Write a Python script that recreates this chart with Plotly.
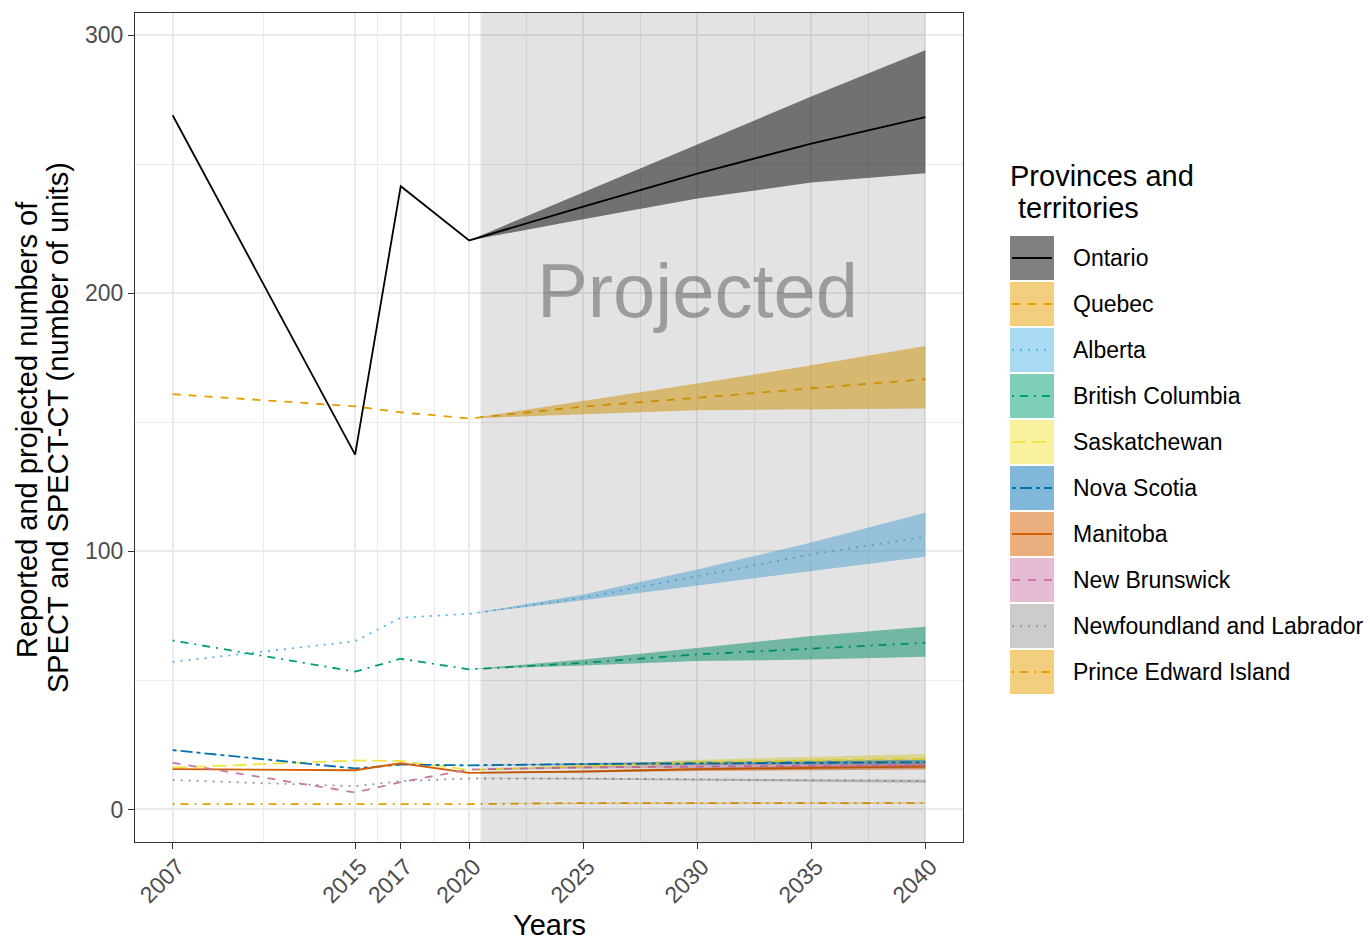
import plotly.graph_objects as go

# ---------------- data ----------------
provinces = ["Ontario", "Quebec", "Alberta", "British Columbia", "Saskatchewan",
             "Nova Scotia", "Manitoba", "New Brunswick",
             "Newfoundland and Labrador", "Prince Edward Island"]
colors = ["#000000", "#E69F00", "#56B4E9", "#009E73", "#F0E442",
          "#0072B2", "#D55E00", "#CC79A7", "#999999", "#E69F00"]
dashes = ["solid", "8px,8px", "2px,6px", "2px,6px,8px,6px", "14px,6px",
          "4px,4px,12px,4px", "solid", "8px,8px", "2px,6px", "2px,6px,8px,6px"]

hist_years = [2007, 2015, 2017, 2020]
proj_years = [2020, 2025, 2030, 2035, 2040]
x_tick_years = [2007, 2015, 2017, 2020, 2025, 2030, 2035, 2040]
y_ticks = [0, 100, 200, 300]

reported = {
    "Ontario":                   [269.0, 137.5, 241.5, 220.5],
    "Quebec":                    [160.9, 156.2, 153.9, 151.5],
    "Alberta":                   [57.2, 65.2, 74.3, 75.8],
    "British Columbia":          [65.5, 53.4, 58.4, 54.3],
    "Saskatchewan":              [16.2, 19.0, 18.8, 15.3],
    "Nova Scotia":               [23.0, 15.9, 17.4, 17.1],
    "Manitoba":                  [15.6, 15.2, 17.9, 14.2],
    "New Brunswick":             [18.1, 6.6, 10.6, 15.5],
    "Newfoundland and Labrador": [11.4, 9.0, 11.0, 12.0],
    "Prince Edward Island":      [2.1, 2.1, 2.1, 2.1],
}
projected = {
    "Ontario":                   [220.5, 233.6, 246.4, 258.0, 268.3],
    "Quebec":                    [151.5, 156.1, 159.5, 163.2, 166.7],
    "Alberta":                   [75.8, 82.0, 90.4, 98.8, 105.7],
    "British Columbia":          [54.3, 56.8, 60.1, 62.3, 64.6],
    "Saskatchewan":              [15.3, 16.8, 18.3, 19.0, 19.6],
    "Nova Scotia":               [17.1, 17.6, 17.9, 18.1, 18.3],
    "Manitoba":                  [14.2, 14.7, 15.6, 16.1, 16.6],
    "New Brunswick":             [15.5, 16.3, 16.7, 16.9, 17.1],
    "Newfoundland and Labrador": [12.0, 12.0, 11.6, 11.3, 11.0],
    "Prince Edward Island":      [2.1, 2.5, 2.5, 2.5, 2.5],
}
lower = {
    "Ontario":                   [220.5, 228.7, 236.7, 242.9, 246.5],
    "Quebec":                    [151.5, 153.1, 154.7, 155.0, 155.4],
    "Alberta":                   [75.8, 81.1, 86.8, 92.4, 97.9],
    "British Columbia":          [54.3, 55.8, 57.5, 58.1, 59.2],
    "Saskatchewan":              [15.3, 16.3, 17.3, 17.7, 18.0],
    "Nova Scotia":               [17.1, 17.2, 17.3, 17.3, 17.4],
    "Manitoba":                  [14.2, 14.3, 14.9, 15.2, 15.5],
    "New Brunswick":             [15.5, 15.9, 16.1, 16.2, 16.2],
    "Newfoundland and Labrador": [12.0, 11.7, 11.2, 10.8, 10.4],
    "Prince Edward Island":      [2.1, 2.3, 2.3, 2.3, 2.3],
}
upper = {
    "Ontario":                   [220.5, 239.0, 257.4, 276.2, 294.2],
    "Quebec":                    [151.5, 158.3, 165.0, 172.1, 179.6],
    "Alberta":                   [75.8, 83.3, 93.0, 103.4, 115.0],
    "British Columbia":          [54.3, 58.1, 62.6, 67.2, 70.8],
    "Saskatchewan":              [15.3, 17.3, 19.3, 20.4, 21.5],
    "Nova Scotia":               [17.1, 18.0, 18.6, 19.0, 19.3],
    "Manitoba":                  [14.2, 15.1, 16.2, 17.0, 17.6],
    "New Brunswick":             [15.5, 16.7, 17.3, 17.7, 18.0],
    "Newfoundland and Labrador": [12.0, 12.2, 11.9, 11.7, 11.5],
    "Prince Edward Island":      [2.1, 2.6, 2.7, 2.7, 2.7],
}

# ---------------- helpers ----------------
FONT = "Liberation Sans, Arial, sans-serif"
L, R, T, B = 135, 963, 13, 842   # panel pixel box
W, H = 1370, 941


def px_x(px):
    return (px - L) / (R - L)


def px_y(py):
    return (B - py) / (B - T)


def rgba(hexc, a):
    h = hexc.lstrip("#")
    r, g, b = int(h[0:2], 16), int(h[2:4], 16), int(h[4:6], 16)
    return f"rgba({r},{g},{b},{a})"


fig = go.Figure()

# ribbons
for p, c in zip(provinces, colors):
    xs = proj_years + proj_years[::-1]
    ys = upper[p] + lower[p][::-1]
    fig.add_trace(go.Scatter(x=xs, y=ys, mode="lines", fill="toself",
                             fillcolor=rgba(c, 0.5), line=dict(width=0),
                             hoverinfo="skip", showlegend=False))

# lines (reported + projected)
for p, c, d in zip(provinces, colors, dashes):
    xs = hist_years + proj_years[1:]
    ys = reported[p] + projected[p][1:]
    fig.add_trace(go.Scatter(x=xs, y=ys, mode="lines", name=p,
                             line=dict(color=c, width=1.8, dash=d),
                             showlegend=False))

shapes = []
# projected shading, drawn over everything like the annotate() layer
shapes.append(dict(type="rect", xref="x", yref="y domain", x0=2020.5, x1=2040,
                   y0=0, y1=1, fillcolor="rgba(0,0,0,0.11)",
                   line=dict(width=0), layer="above"))

annotations = []
annotations.append(dict(x=2030, y=201, xref="x", yref="y", text="Projected",
                        showarrow=False, xanchor="center", yanchor="middle",
                        font=dict(family=FONT, size=76, color="rgba(0,0,0,0.31)")))

# manual legend
annotations.append(dict(x=px_x(1008), y=px_y(176), xref="paper", yref="paper",
                        text="Provinces and", showarrow=False, xanchor="left",
                        yanchor="middle", font=dict(family=FONT, size=29, color="#000000")))
annotations.append(dict(x=px_x(1016), y=px_y(208), xref="paper", yref="paper",
                        text="territories", showarrow=False, xanchor="left",
                        yanchor="middle", font=dict(family=FONT, size=29, color="#000000")))
for i, (p, c, d) in enumerate(zip(provinces, colors, dashes)):
    top = 236 + 46 * i
    bot = top + 44
    mid = (top + bot) / 2
    shapes.append(dict(type="rect", xref="paper", yref="paper",
                       x0=px_x(1010), x1=px_x(1054), y0=px_y(bot), y1=px_y(top),
                       fillcolor=rgba(c, 0.5), line=dict(width=0), layer="above"))
    shapes.append(dict(type="line", xref="paper", yref="paper",
                       x0=px_x(1012), x1=px_x(1052), y0=px_y(mid), y1=px_y(mid),
                       line=dict(color=c, width=1.8, dash=d), layer="above"))
    annotations.append(dict(x=px_x(1071), y=px_y(mid), xref="paper", yref="paper",
                            text=p, showarrow=False, xanchor="left", yanchor="middle",
                            font=dict(family=FONT, size=23, color="#000000")))

# axis titles
annotations.append(dict(x=0.5, y=px_y(925), xref="paper", yref="paper", text="Years",
                        showarrow=False, xanchor="center", yanchor="middle",
                        font=dict(family=FONT, size=29, color="#000000")))
annotations.append(dict(x=px_x(27), y=px_y(430), xref="paper", yref="paper",
                        text="Reported and projected numbers of", textangle=-90,
                        showarrow=False, xanchor="center", yanchor="middle",
                        font=dict(family=FONT, size=29, color="#000000")))
annotations.append(dict(x=px_x(58), y=px_y(428), xref="paper", yref="paper",
                        text="SPECT and SPECT-CT (number of units)", textangle=-90,
                        showarrow=False, xanchor="center", yanchor="middle",
                        font=dict(family=FONT, size=29, color="#000000")))

axis_common = dict(showline=True, mirror=True, linecolor="#333333", linewidth=1.3,
                   ticks="outside", ticklen=6, tickcolor="#333333", tickwidth=1.3,
                   showgrid=True, gridcolor="#EBEBEB", gridwidth=1.6, zeroline=False,
                   tickfont=dict(family=FONT, size=23, color="#4D4D4D"))

fig.update_layout(
    width=W, height=H,
    margin=dict(l=L, r=W - R, t=T, b=H - B),
    paper_bgcolor="white", plot_bgcolor="white",
    font=dict(family=FONT),
    shapes=shapes, annotations=annotations, showlegend=False,
    xaxis=dict(range=[2005.35, 2041.65], tickmode="array", tickvals=x_tick_years,
               ticktext=[str(v) for v in x_tick_years], tickangle=-45,
               ticklabelstandoff=-5, ticklabelshift=5,
               minor=dict(tickmode="array",
                          tickvals=[2011, 2016, 2018.5, 2022.5, 2027.5, 2032.5, 2037.5],
                          showgrid=True, gridcolor="#EBEBEB", gridwidth=0.9, ticks=""),
               **axis_common),
    yaxis=dict(range=[-12.6, 308.6], tickmode="array", tickvals=y_ticks,
               ticktext=[str(v) for v in y_ticks],
               minor=dict(tickmode="array", tickvals=[50, 150, 250],
                          showgrid=True, gridcolor="#EBEBEB", gridwidth=0.9, ticks=""),
               **axis_common),
)

fig.write_html("out.html")
